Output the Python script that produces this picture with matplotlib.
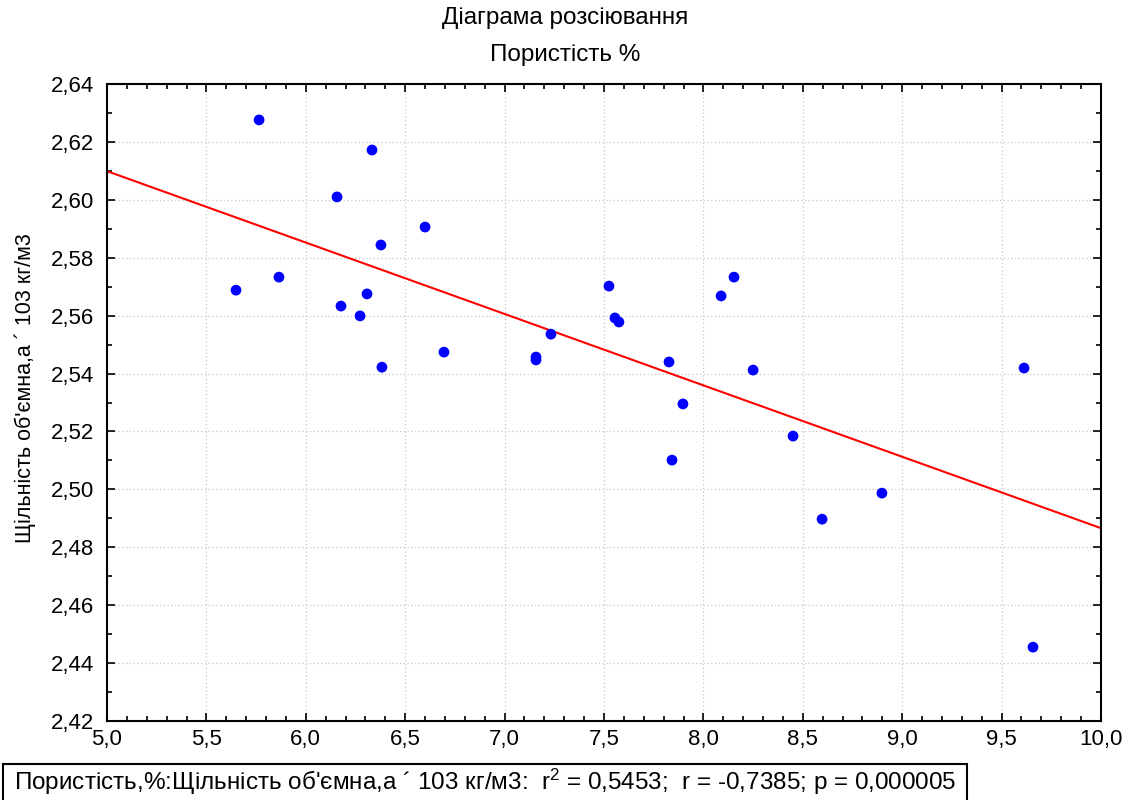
import numpy as np
import matplotlib
matplotlib.use("Agg")
import matplotlib.pyplot as plt
from matplotlib.ticker import MultipleLocator, FuncFormatter
from matplotlib.patches import Rectangle

plt.rcParams['font.family'] = ['Liberation Sans', 'DejaVu Sans']
plt.rcParams['mathtext.fontset'] = 'custom'
plt.rcParams['mathtext.rm'] = 'Liberation Sans'
plt.rcParams['mathtext.it'] = 'Liberation Sans'

porosity = [5.765, 6.333, 6.157, 6.600, 6.378, 5.649, 5.865, 6.177, 6.308, 6.273,
            6.383, 6.695, 7.158, 7.158, 7.233, 7.525, 7.555, 7.575, 7.827, 7.842,
            7.897, 8.089, 8.154, 8.250, 8.451, 8.597, 8.898, 9.613, 9.658]
density = [2.6276, 2.6172, 2.6010, 2.5906, 2.5844, 2.5688, 2.5733, 2.5633, 2.5675, 2.5599,
           2.5422, 2.5474, 2.5457, 2.5447, 2.5536, 2.5702, 2.5592, 2.5578, 2.5440, 2.5101,
           2.5295, 2.5668, 2.5733, 2.5412, 2.5184, 2.4897, 2.4987, 2.5419, 2.4455]
fit_x = [5.0, 10.0]
fit_y = [2.6099, 2.4866]

fig = plt.figure(figsize=(11.34, 8.0), dpi=100)
ax = fig.add_axes([107/1134, 1 - 721/800, (1101-107)/1134, (721-84)/800])

ax.plot(fit_x, fit_y, color='#ff0000', lw=1.5, zorder=2)
ax.scatter(porosity, density, s=60, color='#0000ff', edgecolors='none', zorder=3)

ax.set_xlim(5.0, 10.0)
ax.set_ylim(2.42, 2.64)
ax.xaxis.set_major_locator(MultipleLocator(0.5))
ax.xaxis.set_minor_locator(MultipleLocator(0.1))
ax.yaxis.set_major_locator(MultipleLocator(0.02))
ax.yaxis.set_minor_locator(MultipleLocator(0.01))
ax.xaxis.set_major_formatter(FuncFormatter(lambda v, p: f"{v:.1f}".replace('.', ',')))
ax.yaxis.set_major_formatter(FuncFormatter(lambda v, p: f"{v:.2f}".replace('.', ',')))
ax.tick_params(which='both', direction='in', top=True, right=True, labelsize=16, width=1.2)
ax.tick_params(which='major', length=6)
ax.tick_params(axis='y', which='major', pad=9)
ax.tick_params(axis='x', which='major', pad=6)
ax.tick_params(which='minor', length=3.5)
for s in ax.spines.values():
    s.set_linewidth(1.5)
ax.grid(True, which='major', linestyle=(0, (1, 2)), color='#c8c8c8', linewidth=0.9)
ax.set_axisbelow(True)

ax.set_ylabel("Щільність об'ємна,а ´ 103 кг/м3", fontsize=15.5)
ax.yaxis.set_label_coords(25/1134, 1 - 388/800, transform=fig.transFigure)
ax.yaxis.label.set_va('center')

fig.text(565/1134, 1 - 18/800, "Діаграма розсіювання", ha='center', va='center', fontsize=17.5)
fig.text(565/1134, 1 - 55/800, "Пористість %", ha='center', va='center', fontsize=17.5)

fig.patches.append(Rectangle((3/1134, -0.01), (967-3)/1134, 36/800 + 0.01, transform=fig.transFigure,
                             fill=False, edgecolor='black', linewidth=1.5))
fig.text(14/1134, 1 - 782/800,
         "Пористість,%:Щільність об'ємна,а ´ 103 кг/м3:  r$^2$ = 0,5453;  r = -0,7385; p = 0,000005",
         ha='left', va='center', fontsize=17.5)

fig.savefig("out.png", dpi=100)
